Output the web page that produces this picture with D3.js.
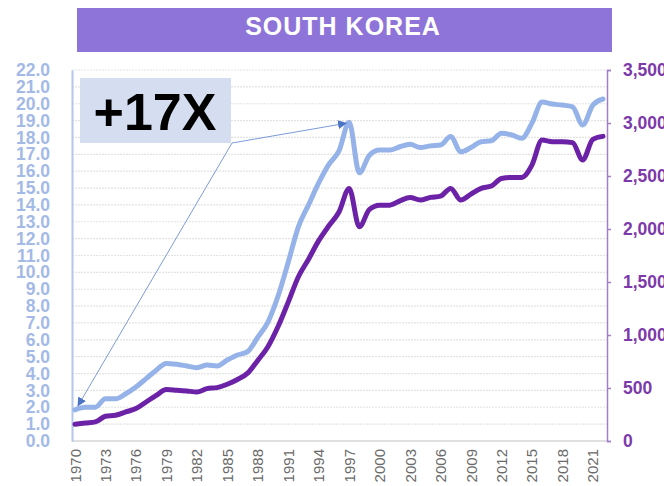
<!DOCTYPE html>
<html><head><meta charset="utf-8">
<script src="https://cdn.jsdelivr.net/npm/d3@7"></script>
<style>body{margin:0;background:#fff}svg{display:block}</style>
</head><body>
<script>
const years = d3.range(1970, 2023);
const ratioSeries = [1.85,2.0,2.0,2.5,2.5,2.8,3.2,3.7,4.2,4.6,4.55,4.45,4.35,4.5,4.45,4.8,5.1,5.3,6.15,7.05,8.6,10.6,12.7,14.0,15.3,16.4,17.2,18.9,15.9,16.95,17.25,17.25,17.45,17.6,17.4,17.5,17.55,18.05,17.15,17.4,17.75,17.8,18.25,18.15,17.95,18.85,20.1,19.98,19.92,19.82,18.74,19.92,20.28];
const valueSeries = [158,170,180,233,243,274,306,368,431,485,479,472,463,494,504,535,580,640,760,890,1080,1310,1550,1715,1890,2030,2160,2383,2021,2185,2225,2225,2266,2298,2273,2298,2310,2383,2273,2329,2383,2405,2477,2487,2487,2603,2839,2824,2824,2815,2650,2846,2874];
const leftTicks = d3.range(0, 23);
const rightTicks = [0,500,1000,1500,2000,2500,3000,3500];
const xTickYears = d3.range(1970, 2022, 3);
const titleText = "SOUTH KOREA";
const calloutText = "+17X";

const W = 664, H = 486;
const FONT = "Liberation Sans, Arial, Helvetica, sans-serif";
const svg = d3.select("body").append("svg").attr("width", W).attr("height", H);
const pL = 72, pR = 607, pT = 70, pB = 441;

const x = d3.scaleLinear().domain([1970, 2022]).range([75, 603]);
const yL = d3.scaleLinear().domain([0, 22]).range([pB, pT]);
const yR = d3.scaleLinear().domain([0, 3500]).range([pB, pT]);

// title bar
svg.append("rect").attr("x", 77).attr("y", 8).attr("width", 535).attr("height", 44).attr("fill", "#8e73d9");
svg.append("text").attr("x", 343).attr("y", 35).attr("text-anchor", "middle")
  .attr("font-family", FONT).attr("font-weight", "bold").attr("letter-spacing", 1)
  .attr("font-size", 25).attr("fill", "#fff").text(titleText);

// gridlines
svg.append("g").selectAll("line").data(leftTicks.filter(d => d > 0)).join("line")
  .attr("x1", pL).attr("x2", pR).attr("y1", d => yL(d)).attr("y2", d => yL(d))
  .attr("stroke", "#e3e3e3").attr("stroke-width", 1.2).attr("stroke-dasharray", "2,1");

// bottom axis line
svg.append("line").attr("x1", pL).attr("x2", pR).attr("y1", pB).attr("y2", pB)
  .attr("stroke", "#d6d6d6").attr("stroke-width", 1.5);

// left axis
const gL = svg.append("g").attr("transform", `translate(${pL},0)`)
  .call(d3.axisLeft(yL).tickValues(leftTicks).tickFormat(d3.format(".1f")).tickSize(0).tickPadding(22));
gL.select(".domain").attr("stroke", "#b4c6ec").attr("stroke-width", 2);
gL.selectAll("text").attr("font-family", FONT).attr("font-weight", "bold")
  .attr("font-size", 17.5).attr("fill", "#a3b9e6");

// right axis
const gR = svg.append("g").attr("transform", `translate(${pR},0)`)
  .call(d3.axisRight(yR).tickValues(rightTicks).tickFormat(d3.format(",")).tickSize(4).tickSizeOuter(4).tickPadding(12));
gR.select(".domain").attr("stroke", "#a57cc6").attr("stroke-width", 1.5);
gR.selectAll(".tick line").attr("stroke", "#a57cc6").attr("stroke-width", 1.5);
gR.selectAll("text").attr("font-family", FONT).attr("font-weight", "bold")
  .attr("font-size", 17.5).attr("fill", "#7c3aaa");

// x labels
svg.append("g").selectAll("text").data(xTickYears).join("text")
  .attr("transform", d => `translate(${x(d) + 5.5},449) rotate(-90)`)
  .attr("text-anchor", "end").attr("font-family", FONT)
  .attr("font-size", 15).attr("fill", "#6a6a6a").text(d => d);

// lines
const lineL = d3.line().x((d, i) => x(years[i])).y(d => yL(d)).curve(d3.curveMonotoneX);
const lineR = d3.line().x((d, i) => x(years[i])).y(d => yR(d)).curve(d3.curveMonotoneX);
svg.append("path").attr("d", lineL(ratioSeries)).attr("fill", "none").attr("stroke", "#95b3e8")
  .attr("stroke-width", 5).attr("stroke-linejoin", "round").attr("stroke-linecap", "round");
svg.append("path").attr("d", lineR(valueSeries)).attr("fill", "none").attr("stroke", "#6c22a6")
  .attr("stroke-width", 5).attr("stroke-linejoin", "round").attr("stroke-linecap", "round");

// callout box
svg.append("rect").attr("x", 80).attr("y", 78).attr("width", 151).attr("height", 65).attr("fill", "#d5def0");
svg.append("text").attr("x", 155).attr("y", 130).attr("text-anchor", "middle")
  .attr("font-family", FONT).attr("font-weight", "bold")
  .attr("font-size", 52).attr("fill", "#000").text(calloutText);

// arrows
const defs = svg.append("defs");
defs.append("marker").attr("id", "ah").attr("viewBox", "0 0 10 10").attr("refX", 9).attr("refY", 5)
  .attr("markerWidth", 9).attr("markerHeight", 9).attr("orient", "auto-start-reverse")
  .attr("markerUnits", "userSpaceOnUse")
  .append("path").attr("d", "M0,0 L10,5 L0,10 z").attr("fill", "#4c74c6");
const ox = 232, oy = 143;
const i97 = years.indexOf(1997);
[[x(1970) + 3, yL(ratioSeries[0]) - 4], [x(1997) - 3, yL(ratioSeries[i97]) + 1]].forEach(([ex, ey]) => {
  svg.append("line").attr("x1", ox).attr("y1", oy).attr("x2", ex).attr("y2", ey)
    .attr("stroke", "#7d9bd8").attr("stroke-width", 1).attr("marker-end", "url(#ah)");
});
</script>
</body></html>
